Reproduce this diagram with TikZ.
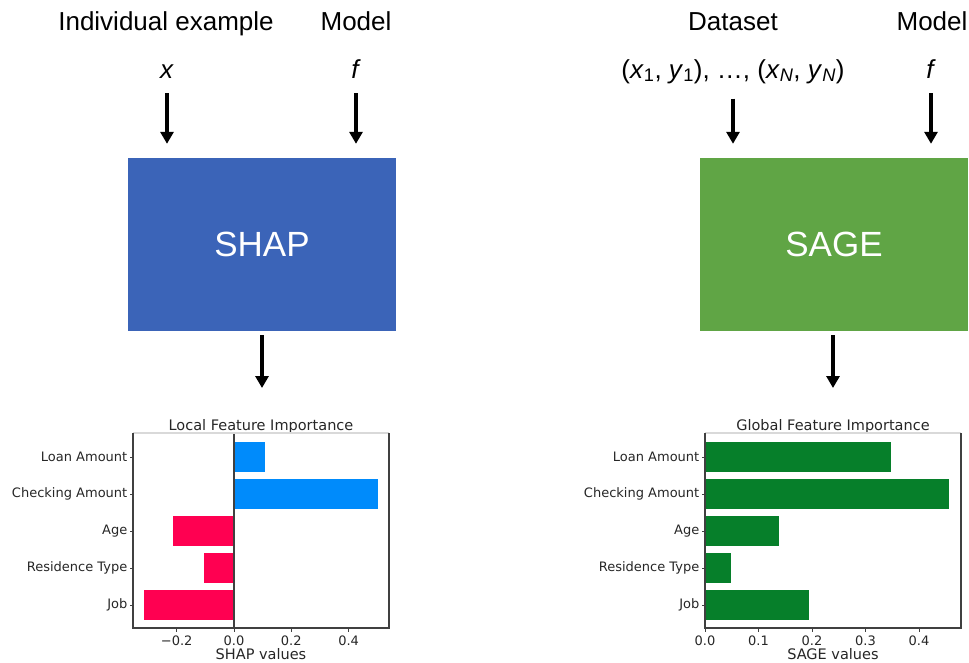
\documentclass[tikz,border=0pt]{standalone}
\usepackage{fontspec}
\setmainfont{Liberation Sans}
\newfontfamily\plotfont{DejaVu Sans}
\usetikzlibrary{positioning, arrows.meta}
\definecolor{shapBlue}{HTML}{3B64B8}
\definecolor{sageGreen}{HTML}{60A545}
\definecolor{posBar}{HTML}{008BFB}
\definecolor{negBar}{HTML}{FF0051}
\definecolor{sageBar}{HTML}{067F2A}
\definecolor{axisGray}{HTML}{404040}
\definecolor{plotText}{HTML}{262626}

\tikzset{
  headtxt/.style={inner sep=0pt, anchor=base, font=\fontsize{26}{30}\selectfont},
  methodbox/.style={rectangle, minimum width=268pt, minimum height=173pt,
    text=white, font=\fontsize{35}{40}\selectfont},
  flow/.style={line width=3.3pt, -{Triangle[width=13pt,length=12pt]}},
  ticklbl/.style={inner sep=0pt, text=plotText, font=\plotfont\fontsize{13}{15}\selectfont},
  axlbl/.style={inner sep=0pt, anchor=base, text=plotText, font=\plotfont\fontsize{14.5}{17}\selectfont},
  spine/.style={axisGray, line width=1.1pt},
}

\begin{document}
\begin{tikzpicture}[x=1pt, y=-1pt]
  \useasboundingbox (0,0) rectangle (969,662);

  % --- inputs and method boxes ---
  \node[headtxt] (hdind) at (166,30) {Individual example};
  \node[headtxt] (hdmodl) at (356,30) {Model};
  \node[headtxt] (hddata) at (733,30) {Dataset};
  \node[headtxt] (hdmodr) at (932,30) {Model};

  \node[headtxt] (inx) at (167,78) {\textit{x}};
  \node[headtxt] (infl) at (356,78) {\textit{f}};
  \node[headtxt] (indata) at (733,78)
    {(\textit{x}\textsubscript{1}, \textit{y}\textsubscript{1}), \dots,
     (\textit{x}\textsubscript{\itshape N}, \textit{y}\textsubscript{\itshape N})};
  \node[headtxt] (infr) at (931,78) {\textit{f}};

  \node[methodbox, fill=shapBlue] (shap) at (262,244.5) {SHAP};
  \node[methodbox, fill=sageGreen] (sage) at (834,244.5) {SAGE};

  \foreach \src/\dst in {inx/shap, infl/shap, indata/sage, infr/sage}
    \draw[flow] ([yshift=-15pt]\src.south) -- ([yshift=14pt]\src |- \dst.north);

  \coordinate (shapout) at (262,388);
  \coordinate (sageout) at (833,388);
  \draw[flow] ([yshift=-4pt]shap.south) -- (shapout);
  \draw[flow] ([yshift=-4pt]sage.south -| sageout) -- (sageout);

  % --- local feature importance (SHAP values) ---
  \node[axlbl] (loctitle) at (261,430) {Local Feature Importance};
  \foreach \lbl/\val [count=\i from 0] in {Loan Amount/0.108, Checking Amount/0.502,
      Age/-0.212, Residence Type/-0.105, Job/-0.314} {
    \pgfmathsetmacro\yc{457+37*\i}
    \ifdim\val pt<0pt\def\barcol{negBar}\else\def\barcol{posBar}\fi
    \fill[\barcol] (234,{\yc-14.8}) rectangle ({234+286.5*(\val)},{\yc+14.8});
    \draw[axisGray, line width=0.9pt] (133,\yc) -- (129.5,\yc);
    \node[ticklbl, anchor=east] (locy\i) at (127.5,\yc) {\lbl};
  }
  \draw[spine] (234,433) -- (234,628);
  \draw[axisGray!20, line width=1.1pt] (133,433) -- (389,433);
  \draw[spine] (133,433) -- (133,628) -- (389,628) -- (389,433);
  \foreach \v/\t [count=\i] in {-0.2/−0.2, 0/0.0, 0.2/0.2, 0.4/0.4} {
    \draw[axisGray, line width=0.9pt] ({234+286.5*(\v)},628) -- ({234+286.5*(\v)},631.5);
    \node[ticklbl, anchor=base] (locx\i) at ({234+286.5*(\v)},645) {\t};
  }
  \node[axlbl] (locxlab) at (261,659) {SHAP values};

  % --- global feature importance (SAGE values) ---
  \node[axlbl] (globtitle) at (833,430) {Global Feature Importance};
  \foreach \lbl/\val [count=\i from 0] in {Loan Amount/0.348, Checking Amount/0.456,
      Age/0.138, Residence Type/0.049, Job/0.195} {
    \pgfmathsetmacro\yc{457+37*\i}
    \fill[sageBar] (705,{\yc-14.8}) rectangle ({705+535*(\val)},{\yc+14.8});
    \draw[axisGray, line width=0.9pt] (705,\yc) -- (701.5,\yc);
    \node[ticklbl, anchor=east] (globy\i) at (699.5,\yc) {\lbl};
  }
  \draw[axisGray!20, line width=1.1pt] (705,433) -- (961,433);
  \draw[spine] (705,433) -- (705,628) -- (961,628) -- (961,433);
  \foreach \v/\t [count=\i] in {0/0.0, 0.1/0.1, 0.2/0.2, 0.3/0.3, 0.4/0.4} {
    \draw[axisGray, line width=0.9pt] ({705+535*(\v)},628) -- ({705+535*(\v)},631.5);
    \node[ticklbl, anchor=base] (globx\i) at ({705+535*(\v)},645) {\t};
  }
  \node[axlbl] (globxlab) at (833,659) {SAGE values};
\end{tikzpicture}
\end{document}
